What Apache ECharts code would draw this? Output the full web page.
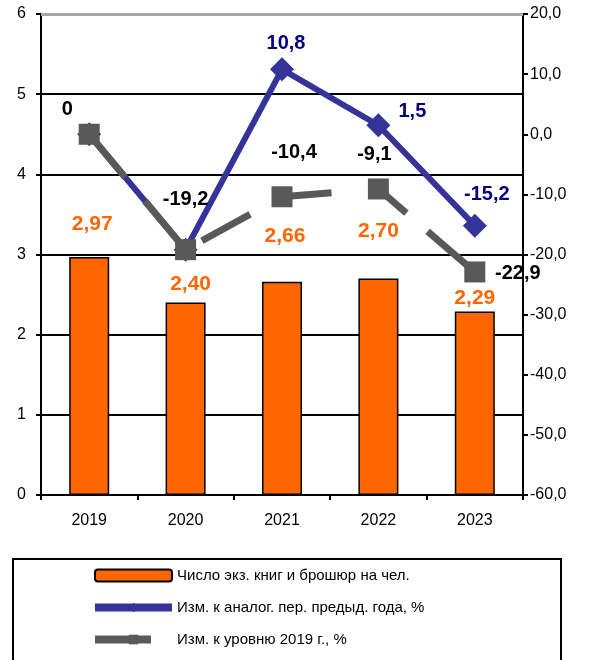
<!DOCTYPE html>
<html>
<head>
<meta charset="utf-8">
<script src="https://cdn.jsdelivr.net/npm/echarts@6/dist/echarts.min.js"></script>
<style>html,body{margin:0;padding:0;background:#fff}#c{width:590px;height:660px}</style>
</head>
<body>
<div id="c"></div>
<script>
const categories = ['2019', '2020', '2021', '2022', '2023'];
const booksPerCapita = [2.97, 2.40, 2.66, 2.70, 2.29];
const changePrevYear = [0, -19.2, 10.8, 1.5, -15.2];
const changeVs2019 = [0, -19.2, -10.4, -9.1, -22.9];
const seriesNames = ['Число экз. книг и брошюр на чел.', 'Изм. к аналог. пер. предыд. года, %', 'Изм. к уровню 2019 г., %'];

// label placement / line dash (layout & style only)
const barLabelOffsets = [[3, -17], [5, -3], [3, -30], [0, -32], [0, 2]];
const blueLabelShow = [false, false, true, true, true];
const blueLabelOffsets = [[0, 0], [0, 0], [4, -26], [34, -14], [12, -31]];
const grayLabelOffsets = [[-22, -25], [0, -50], [12, -44], [-4, -34], [43, 2]];
const grayDash = [56, 31, 64, 18, 55, 36, 50, 46, 38, 28, 61, 20];

const fmt = v => String(v).replace('.', ',');
const FONT = 'Arial, "Liberation Sans", sans-serif';

const chart = echarts.init(document.getElementById('c'));
chart.setOption({
  animation: false,
  textStyle: { fontFamily: FONT },
  grid: { left: 41, right: 67, top: 14, bottom: 165, containLabel: false },
  graphic: [{
    type: 'rect', shape: { x: 13, y: 559, width: 548, height: 110 },
    style: { fill: 'none', stroke: '#000', lineWidth: 2 }, z: 0
  }],
  legend: {
    orient: 'vertical', left: 86, top: 563,
    itemWidth: 77, itemHeight: 12, itemGap: 17,
    textStyle: { fontFamily: FONT, fontSize: 15, color: '#000' },
    data: [
      { name: seriesNames[0], itemStyle: { borderWidth: 2, borderColor: '#000' } },
      { name: seriesNames[1], lineStyle: { width: 8 } },
      { name: seriesNames[2], lineStyle: { width: 8 } }
    ]
  },
  xAxis: {
    type: 'category', data: categories,
    axisLine: { lineStyle: { color: '#000', width: 2 } },
    axisTick: { show: true, length: 5, lineStyle: { color: '#000', width: 2 } },
    axisLabel: { fontSize: 16, color: '#000', margin: 18, fontFamily: FONT }
  },
  yAxis: [{
    type: 'value', min: 0, max: 6, interval: 1, position: 'left',
    axisLine: { show: true, lineStyle: { color: '#000', width: 2 } },
    axisTick: { show: true, length: 5, lineStyle: { color: '#000', width: 2 } },
    axisLabel: { fontSize: 16, color: '#000', margin: 15, fontFamily: FONT },
    splitLine: { show: true, showMinLine: false, showMaxLine: false, lineStyle: { color: '#000', width: 2 } }
  }, {
    type: 'value', min: -60, max: 20, interval: 10, position: 'right',
    axisLine: { show: true, lineStyle: { color: '#000', width: 2 } },
    axisTick: { show: true, length: 5, lineStyle: { color: '#000', width: 2 } },
    axisLabel: { fontSize: 16, color: '#000', margin: 7, fontFamily: FONT, formatter: v => v.toFixed(1).replace('.', ',') },
    splitLine: { show: false }
  }],
  series: [{
    name: seriesNames[0], type: 'bar', yAxisIndex: 0, barWidth: 40, z: 2,
    itemStyle: { color: '#FF6600', borderColor: '#000', borderWidth: 1.5 },
    markLine: {
      silent: true, symbol: 'none', label: { show: false },
      lineStyle: { color: '#a6a6a6', width: 3, type: 'solid' },
      data: [{ yAxis: 6 }]
    },
    data: booksPerCapita.map((v, i) => ({
      value: v,
      label: { show: true, position: 'top', offset: barLabelOffsets[i], formatter: p => p.value.toFixed(2).replace('.', ','), color: '#FF6600', fontSize: 21, fontWeight: 'bold', fontFamily: FONT }
    }))
  }, {
    name: seriesNames[1], type: 'line', yAxisIndex: 1, z: 3,
    symbol: 'diamond', symbolSize: 24,
    lineStyle: { color: '#333399', width: 6 },
    itemStyle: { color: '#333399' },
    data: changePrevYear.map((v, i) => ({
      value: v,
      label: { show: blueLabelShow[i], position: 'inside', offset: blueLabelOffsets[i], formatter: p => fmt(p.value), color: '#000080', fontSize: 20, fontWeight: 'bold', fontFamily: FONT }
    }))
  }, {
    name: seriesNames[2], type: 'line', yAxisIndex: 1, z: 4,
    symbol: 'rect', symbolSize: 21,
    lineStyle: { color: '#595959', width: 7, type: grayDash },
    itemStyle: { color: '#595959' },
    data: changeVs2019.map((v, i) => ({
      value: v,
      label: { show: true, position: 'inside', offset: grayLabelOffsets[i], formatter: p => fmt(p.value), color: '#000', fontSize: 20, fontWeight: 'bold', fontFamily: FONT }
    }))
  }]
});
</script>
</body>
</html>
